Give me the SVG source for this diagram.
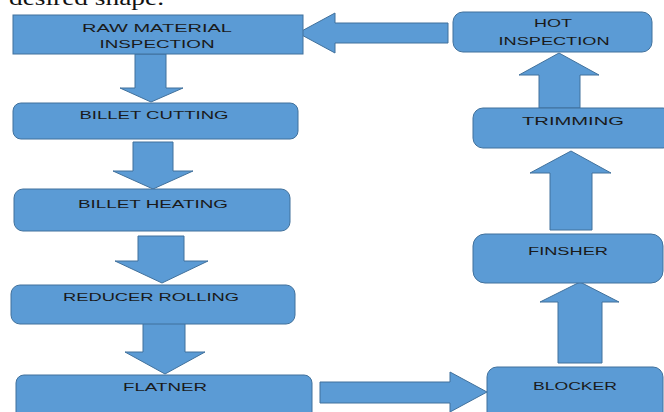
<svg xmlns="http://www.w3.org/2000/svg" width="664" height="412" viewBox="0 0 664 412">
<style>
.box{fill:#5b9bd5;stroke:#41719c;stroke-width:1}
.arr{fill:#5b9bd5;stroke:#41719c;stroke-width:1;stroke-linejoin:miter}
.lbl{font-family:"Liberation Sans",Arial,sans-serif;font-size:11px;fill:#1a1a1a;text-anchor:middle}
.top{font-family:"Liberation Serif","Times New Roman",serif;font-size:22px;fill:#111}
</style>
<rect width="664" height="412" fill="#fff"/>
<text class="top" x="9" y="5" textLength="155" lengthAdjust="spacingAndGlyphs">desired shape.</text>
<g id="connectors">
<polygon class="arr" points="135,54 166,54 166,88 183,88 151,102 120,88 135,88"/>
<polygon class="arr" points="133,142 173,142 173,171 193,171 153,189 113,171 133,171"/>
<polygon class="arr" points="138,236 184,236 184,261 208,261 162,283 115,261 138,261"/>
<polygon class="arr" points="143,323 185,323 185,352 205,352 165,374 125,352 143,352"/>
<polygon class="arr" points="320,382 450,382 450,372 487,392 450,412 450,403 320,403"/>
<polygon class="arr" points="558,363 558,302 540,302 580,282 619,302 602,302 602,363"/>
<polygon class="arr" points="550,230 550,173 530,173 571,151 611,173 592,173 592,230"/>
<polygon class="arr" points="539,108 539,75 519,75 559,53 599,75 580,75 580,108"/>
<polygon class="arr" points="448,23 335,23 335,13 298,33 335,53 335,43 448,43"/>
</g>
<g id="raw-material-inspection">
<rect class="box" x="13" y="15" width="290" height="39"/>
<text class="lbl" x="157" y="32" textLength="150" lengthAdjust="spacingAndGlyphs">RAW MATERIAL</text>
<text class="lbl" x="157" y="48" textLength="115" lengthAdjust="spacingAndGlyphs">INSPECTION</text>
</g>
<g id="billet-cutting">
<rect class="box" x="13" y="103" width="285" height="36" rx="8"/>
<text class="lbl" x="154" y="119" textLength="149" lengthAdjust="spacingAndGlyphs">BILLET CUTTING</text>
</g>
<g id="billet-heating">
<rect class="box" x="14" y="189" width="276" height="42" rx="9"/>
<text class="lbl" x="153" y="208" textLength="150" lengthAdjust="spacingAndGlyphs">BILLET HEATING</text>
</g>
<g id="reducer-rolling">
<rect class="box" x="11" y="285" width="284" height="39" rx="9"/>
<text class="lbl" x="151" y="301" textLength="176" lengthAdjust="spacingAndGlyphs">REDUCER ROLLING</text>
</g>
<g id="flatner">
<rect class="box" x="16" y="375" width="296" height="45" rx="8"/>
<text class="lbl" x="165" y="391" textLength="84" lengthAdjust="spacingAndGlyphs">FLATNER</text>
</g>
<g id="blocker">
<rect class="box" x="487" y="367" width="176" height="55" rx="10"/>
<text class="lbl" x="575" y="390" textLength="84" lengthAdjust="spacingAndGlyphs">BLOCKER</text>
</g>
<g id="finsher">
<rect class="box" x="473" y="234" width="190" height="49" rx="12"/>
<text class="lbl" x="568" y="255" textLength="80" lengthAdjust="spacingAndGlyphs">FINSHER</text>
</g>
<g id="trimming">
<rect class="box" x="473" y="108" width="200" height="40" rx="10"/>
<text class="lbl" x="573" y="125" textLength="102" lengthAdjust="spacingAndGlyphs">TRIMMING</text>
</g>
<g id="hot-inspection">
<rect class="box" x="453" y="12" width="199" height="40" rx="10"/>
<text class="lbl" x="553" y="27" textLength="38" lengthAdjust="spacingAndGlyphs">HOT</text>
<text class="lbl" x="554" y="45" textLength="111" lengthAdjust="spacingAndGlyphs">INSPECTION</text>
</g>
</svg>
